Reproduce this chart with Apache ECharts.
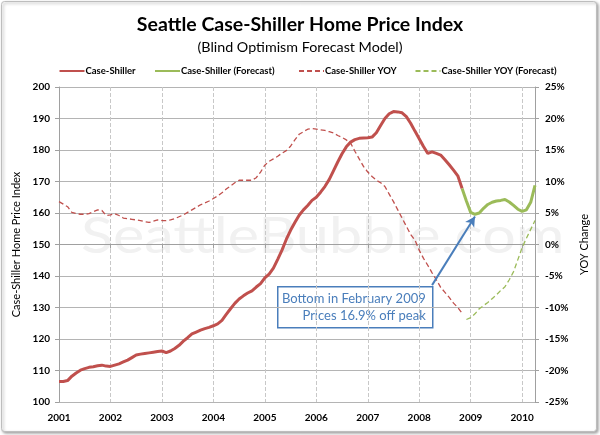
<!DOCTYPE html>
<html>
<head>
<meta charset="utf-8">
<script src="https://cdn.jsdelivr.net/npm/echarts@6/dist/echarts.min.js"></script>
<style>html,body{margin:0;padding:0;background:#fff}#c{width:600px;height:435px}</style>
</head>
<body>
<div id="c"></div>
<script>
// ---- data ----
const years = [2001, 2002, 2003, 2004, 2005, 2006, 2007, 2008, 2009, 2010];
const months = ['01','02','03','04','05','06','07','08','09','10','11','12'];
const lastMonth2010 = 4; // data runs through Apr 2010
// Case-Shiller index, Jan 2001 .. Nov 2008
const priceActual = [
  106.5,106.5,106.8,108.2,109.2,110.1,110.6,111.0,111.2,111.5,
  111.7,111.4,111.3,111.7,112.1,112.7,113.3,114.1,114.9,115.2,
  115.4,115.6,115.8,116.0,116.2,115.7,116.2,117.0,118.0,119.3,
  120.4,121.6,122.2,122.8,123.3,123.7,124.2,124.8,125.9,127.8,
  129.6,131.3,132.7,133.7,134.6,135.3,136.5,137.6,139.4,140.6,
  142.5,145.3,148.2,151.6,154.5,157.0,159.3,161.0,162.4,164.0,
  165.0,166.6,168.4,170.6,173.4,176.2,178.8,181.0,182.5,183.3,
  183.7,183.8,183.9,184.1,185.5,187.8,190.0,191.5,192.2,192.1,
  191.8,190.6,188.5,186.0,183.6,181.1,178.9,179.4,178.9,178.4,
  176.9,175.3,173.6,171.8,167.8
];
// Forecast, Nov 2008 .. Apr 2010
const priceForecast = [
  167.8,163.8,160.2,159.6,160.0,161.5,162.7,163.4,163.8,164.0,
  164.3,163.5,162.4,161.2,160.5,161.0,163.4,168.8
];
// YOY change (%), Jan 2001 .. Nov 2008
const yoyActual = [
  6.8,6.4,6.0,5.1,4.9,4.8,4.8,4.9,5.2,5.5,
  5.4,4.6,4.7,4.9,4.6,4.2,4.1,4.0,3.9,3.8,
  3.6,3.5,3.7,3.9,3.8,3.8,3.9,4.1,4.4,4.7,
  5.1,5.5,5.9,6.3,6.6,6.9,7.3,7.7,8.2,8.8,
  9.3,9.8,10.2,10.2,10.2,10.2,10.6,11.5,12.6,13.2,
  13.6,14.0,14.5,14.9,15.6,16.6,17.5,17.9,18.3,18.4,
  18.3,18.2,18.1,17.9,17.7,17.3,17.0,16.6,16.1,14.8,
  13.6,12.4,11.5,10.8,10.2,9.8,9.2,8.0,6.8,5.5,
  4.2,2.9,1.6,0.7,-0.9,-2.2,-3.3,-4.5,-5.6,-6.8,
  -7.6,-8.4,-9.3,-10.0,-10.9
];
// YOY forecast (%), Dec 2008 .. Apr 2010
const yoyForecast = [
  -11.9,-11.6,-11.0,-10.2,-9.7,-9.2,-8.6,-8.0,-7.3,-6.7,
  -5.6,-4.3,-2.4,-0.5,1.0,2.4,3.8
];
const leftTicks = {min: 100, max: 200, step: 10};
const rightTicks = {min: -25, max: 25, step: 5};
const seriesNames = ['Case-Shiller', 'Case-Shiller (Forecast)', 'Case-Shiller YOY', 'Case-Shiller YOY (Forecast)'];
const bottomLabel = ['Bottom in February 2009', 'Prices 16.9% off peak'];

// ---- build ----
const categories = [];
years.forEach(y => months.forEach((m, k) => {
  if (y < 2010 || k < lastMonth2010) categories.push(y + '-' + m);
}));
const N = categories.length;
function pad(arr, start) {
  const out = new Array(N).fill(null);
  arr.forEach((v, k) => { out[start + k] = v; });
  return out;
}
const fcStart = priceActual.length - 1;
const sPrice = pad(priceActual, 0);
const sPriceF = pad(priceForecast, fcStart);
const sYoy = pad(yoyActual, 0);
const sYoyF = pad(yoyForecast, yoyActual.length);

const RED = '#c0504d', GREEN = '#9bbb59', BLUE = '#4a7ebb';
const FONT = 'Lato';
const yearTick = (i) => i % 12 === 0;

const chart = echarts.init(document.getElementById('c'), null, {renderer: 'canvas'});
const legendBase = {top: 61, itemWidth: 25, itemHeight: 10, itemGap: 4,
  itemStyle: {opacity: 0},
  textStyle: {fontFamily: FONT, fontSize: 9.5, fontWeight: 'bold', color: '#000', padding: [0,0,0,-4]}};
chart.setOption({
  backgroundColor: '#fff',
  animation: false,
  title: [
    {text: 'Seattle Case-Shiller Home Price Index', left: 'center', top: 10,
     textStyle: {fontFamily: FONT, fontSize: 19.5, fontWeight: 'bold', color: '#000'}},
    {text: '(Blind Optimism Forecast Model)', left: 'center', top: 35,
     textStyle: {fontFamily: FONT, fontSize: 14.3, fontWeight: 'normal', color: '#000'}}
  ],
  legend: [
    Object.assign({}, legendBase, {left: 53.5, data: [seriesNames[0]]}),
    Object.assign({}, legendBase, {left: 149, data: [seriesNames[1]]}),
    Object.assign({}, legendBase, {left: 293, data: [seriesNames[2]]}),
    Object.assign({}, legendBase, {left: 409.5, data: [seriesNames[3]]})
  ],
  grid: {left: 59, right: 65, top: 87, bottom: 33, containLabel: false},
  xAxis: {
    type: 'category', data: categories, boundaryGap: false,
    axisLine: {lineStyle: {color: '#a0a0a0', width: 1}},
    axisTick: {interval: yearTick, length: 4, lineStyle: {color: '#a0a0a0'}},
    axisLabel: {interval: yearTick, formatter: v => v.slice(0, 4), margin: 11,
      fontFamily: FONT, fontSize: 10, fontWeight: 'bold', color: '#000'},
    splitLine: {show: true, interval: yearTick, lineStyle: {color: '#c8c8c8', type: [4, 2], width: 1}}
  },
  yAxis: [
    {type: 'value', min: leftTicks.min, max: leftTicks.max, interval: leftTicks.step,
     name: 'Case-Shiller Home Price Index', nameLocation: 'middle', nameGap: 30,
     nameTextStyle: {fontFamily: FONT, fontSize: 11, color: '#000'},
     axisLine: {show: true, lineStyle: {color: '#a0a0a0'}},
     axisTick: {show: true, length: 4, lineStyle: {color: '#a0a0a0'}},
     axisLabel: {margin: 9, fontFamily: FONT, fontSize: 10, fontWeight: 'bold', color: '#000'},
     splitLine: {show: true, lineStyle: {color: '#b4b4b4', width: 1}}},
    {type: 'value', min: rightTicks.min, max: rightTicks.max, interval: rightTicks.step,
     name: 'YOY Change', nameLocation: 'middle', nameGap: 43, nameRotate: 90,
     nameTextStyle: {fontFamily: FONT, fontSize: 11, color: '#000'},
     axisLine: {show: true, lineStyle: {color: '#a0a0a0'}},
     axisTick: {show: true, length: 4, lineStyle: {color: '#a0a0a0'}},
     axisLabel: {margin: 10, formatter: '{value}%', fontFamily: FONT, fontSize: 10, fontWeight: 'bold', color: '#000'},
     splitLine: {show: false}}
  ],
  series: [
    {name: seriesNames[0], type: 'line', data: sPrice, yAxisIndex: 0, symbol: 'none', smooth: false,
     lineStyle: {color: RED, width: 3}, itemStyle: {color: RED}, z: 4},
    {name: seriesNames[1], type: 'line', data: sPriceF, yAxisIndex: 0, symbol: 'none',
     lineStyle: {color: GREEN, width: 3}, itemStyle: {color: GREEN}, z: 4,
     markLine: {silent: true, symbol: ['none', 'arrow'], symbolSize: [8, 10],
       lineStyle: {color: BLUE, width: 2, type: 'solid'}, label: {show: false},
       data: [[{coord: [categories[87], 137.1]}, {coord: [categories[97], 158.9]}]]}},
    {name: seriesNames[2], type: 'line', data: sYoy, yAxisIndex: 1, symbol: 'none',
     lineStyle: {color: RED, width: 1.3, type: [5, 3]}, itemStyle: {color: RED}, z: 3},
    {name: seriesNames[3], type: 'line', data: sYoyF, yAxisIndex: 1, symbol: 'none',
     lineStyle: {color: GREEN, width: 1.3, type: [5, 3]}, itemStyle: {color: GREEN}, z: 3}
  ],
  graphic: [
    {type: 'rect', z: -10, silent: true, shape: {x: 1.5, y: 1.5, width: 595, height: 430, r: 3},
     style: {fill: '#fff', stroke: '#bdbdbd', lineWidth: 1, shadowBlur: 3, shadowOffsetX: 1.5, shadowOffsetY: 1.5, shadowColor: 'rgba(0,0,0,0.35)'}},
    {type: 'text', z: -5, silent: true, x: 81, y: 212, scaleX: 1.185,
     style: {text: 'SeattleBubble.com', fontFamily: FONT, fontSize: 50, fill: '#f1f1f1'}},
    {type: 'group', left: 277, top: 286, z: 100, children: [
      {type: 'rect', shape: {x: 0, y: 0, width: 155, height: 41},
       style: {fill: '#fff', stroke: BLUE, lineWidth: 1.5}},
      {type: 'text', style: {text: bottomLabel[0], x: 148, y: 12.5, align: 'right', verticalAlign: 'middle',
        fontFamily: FONT, fontSize: 13, fill: BLUE}},
      {type: 'text', style: {text: bottomLabel[1], x: 148, y: 29, align: 'right', verticalAlign: 'middle',
        fontFamily: FONT, fontSize: 13, fill: BLUE}}
    ]}
  ]
});
</script>
</body>
</html>
